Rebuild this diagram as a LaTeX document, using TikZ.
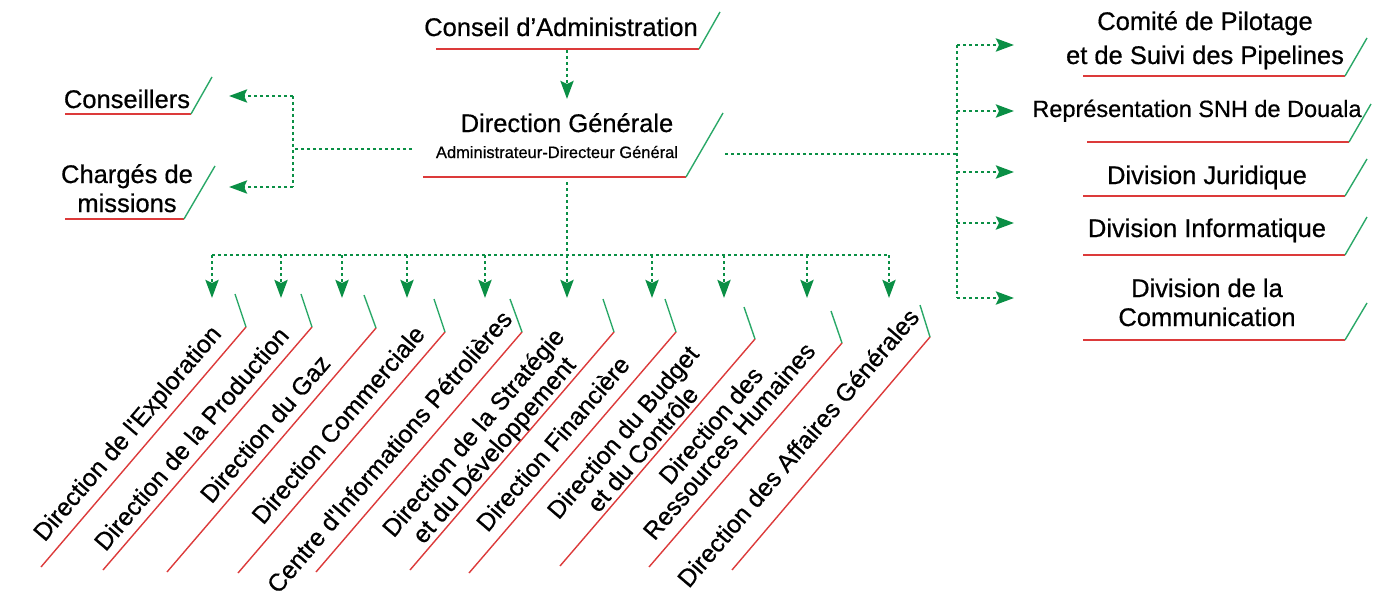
\documentclass[tikz,border=0pt]{standalone}
\usepackage{fontspec}
\setmainfont{Liberation Sans}[FakeBold=0.6]
\usetikzlibrary{arrows.meta,calc}
\definecolor{arrgreen}{HTML}{0A8F45}
\definecolor{slgreen}{HTML}{2AA868}
\definecolor{redl}{HTML}{DC3A3A}
\newcommand\mkrbox[7]{%
  % name, P, B, G, shift along (toward P), gap, text
  \coordinate (p#1) at #2; \coordinate (b#1) at #3; \coordinate (g#1) at #4;
  \draw[redline] (p#1) -- (b#1);
  \draw[slant] (p#1) -- (g#1);
  \node[rlbl, rotate=49.5, anchor=base] (t#1) at ($(b#1)!0.5!(p#1)+(49.5:#5)+(139.5:#6)$) {#7};
}
\newcommand\mkhbox[7]{%
  % name, x1, x2, y, green end, text pos (last baseline), text
  \draw[redline] (#2,#4) coordinate (l#1) -- (#3,#4) coordinate (r#1);
  \draw[slant] (r#1) -- #5 coordinate (g#1);
  \node[lbl, anchor=base] (t#1) at #6 {#7};
}
\begin{document}
\begin{tikzpicture}[x=1pt,y=-1pt,
  lbl/.style={inner sep=0pt, align=center, font=\fontsize{25.5}{29}\selectfont},
  rlbl/.style={inner sep=0pt, align=center, font=\fontsize{24.8}{29}\selectfont},
  redline/.style={draw=redl, line width=1.4pt},
  slant/.style={draw=slgreen, line width=1.4pt},
  dots/.style={draw=arrgreen, line width=2.9pt, dash pattern=on 2.9pt off 3.1pt},
  conn/.style={dots, -{Stealth[length=18pt,width=13pt,inset=3pt]}}
]
\useasboundingbox (0,0) rectangle (1389,591);

% horizontal boxes
\mkhbox{ca}{436}{699}{49}{(720,12)}{(561,36)}{Conseil d’Administration}
\mkhbox{dg}{423}{686}{177}{(723,113)}{(567,132)}{Direction Générale}
\node[inner sep=0pt, anchor=base, font=\fontsize{16.5}{19}\selectfont] (sub) at (557,158) {Administrateur-Directeur Général};
\mkhbox{co}{65}{191}{114}{(212,77)}{(127,108)}{Conseillers}
\mkhbox{cm}{65}{184}{219}{(215,166)}{(127,212)}{Chargés de\\missions}
\mkhbox{cp}{1083}{1345}{76}{(1367,38)}{(1205,64)}{Comité de Pilotage\\[5pt]et de Suivi des Pipelines}
\draw[redline] (1087,142) coordinate (lrs) -- (1349,142) coordinate (rrs);
\draw[slant] (rrs) -- (1371,104) coordinate (grs);
\node[inner sep=0pt, anchor=base, font=\fontsize{23.5}{27}\selectfont] (trs) at (1197,117) {Représentation SNH de Douala};
\mkhbox{dj}{1083}{1345}{196}{(1367,159)}{(1207,184)}{Division Juridique}
\mkhbox{di}{1083}{1345}{255}{(1367,217)}{(1207,237)}{Division Informatique}
\mkhbox{dc}{1083}{1345}{340}{(1367,303)}{(1207,326)}{Division de la\\Communication}

% rotated boxes
\mkrbox{1}{(246,327)}{(41,567)}{(235,294)}{0pt}{13pt}{Direction de l\textquotesingle Exploration}
\mkrbox{2}{(312,327)}{(103,570)}{(301,294)}{-3pt}{10pt}{Direction de la Production}
\mkrbox{3}{(376,328)}{(167,572)}{(364,295)}{12pt}{10pt}{Direction du Gaz}
\mkrbox{4}{(445,332)}{(238,573)}{(434,299)}{19pt}{12pt}{Direction Commerciale}
\mkrbox{5}{(522,332)}{(316,572)}{(510,299)}{-19pt}{14pt}{Centre d\textquotesingle Informations Pétrolières}
\mkrbox{6}{(614,332)}{(410,570)}{(603,299)}{-11pt}{6pt}{Direction de la Stratégie\\[-2pt]et du Développement}
\mkrbox{7}{(676,332)}{(469,573)}{(665,299)}{-6pt}{12pt}{Direction Financière}
\mkrbox{8}{(755,339)}{(560,566)}{(744,307)}{-7pt}{5pt}{Direction du Budget\\[-3pt]et du Contrôle}
\mkrbox{9}{(842,343)}{(649,567)}{(831,311)}{0pt}{13pt}{Direction des\\[-5pt]Ressources Humaines}
\mkrbox{10}{(930,337)}{(732,570)}{(920,305)}{-17pt}{20pt}{Direction des Affaires Générales}

% connectors
\coordinate (caout) at (567,50);
\coordinate (dgin) at (567,99);
\draw[conn] (caout) -- (dgin);

\coordinate (dgw) at (412,149);
\coordinate (lj) at (293,149);
\coordinate (lt) at (293,96);
\coordinate (lb) at (293,187);
\coordinate (coin) at (229,96);
\coordinate (cmin) at (229,187);
\draw[dots] (dgw) -- (lj);
\draw[dots] (lt) -- (lb);
\draw[conn] (lt) -- (coin);
\draw[conn] (lb) -- (cmin);

\coordinate (dge) at (725,154);
\coordinate (rj) at (957,154);
\coordinate (rt) at (957,45);
\coordinate (rb) at (957,298);
\draw[dots] (dge) -- (rj);
\draw[dots] (rt) -- (rb);
\foreach \y/\n in {45/cp,111/rs,172/dj,223/di,298/dc}{
  \coordinate (s\n) at (957,\y);
  \coordinate (in\n) at (1014,\y);
  \draw[conn] (s\n) -- (in\n);
}

\coordinate (dgs) at (567,182);
\coordinate (bus) at (567,255);
\draw[dots] (dgs) -- (bus);
\coordinate (busl) at (212,255);
\coordinate (busr) at (889,255);
\draw[dots] (busl) -- (busr);
\foreach \x/\n in {212/1,281/2,342/3,407/4,485/5,567/6,652/7,724/8,807/9,889/10}{
  \coordinate (j\n) at (\x,255);
  \coordinate (in\n) at (\x,298);
  \draw[conn] (j\n) -- (in\n);
}
\end{tikzpicture}
\end{document}
